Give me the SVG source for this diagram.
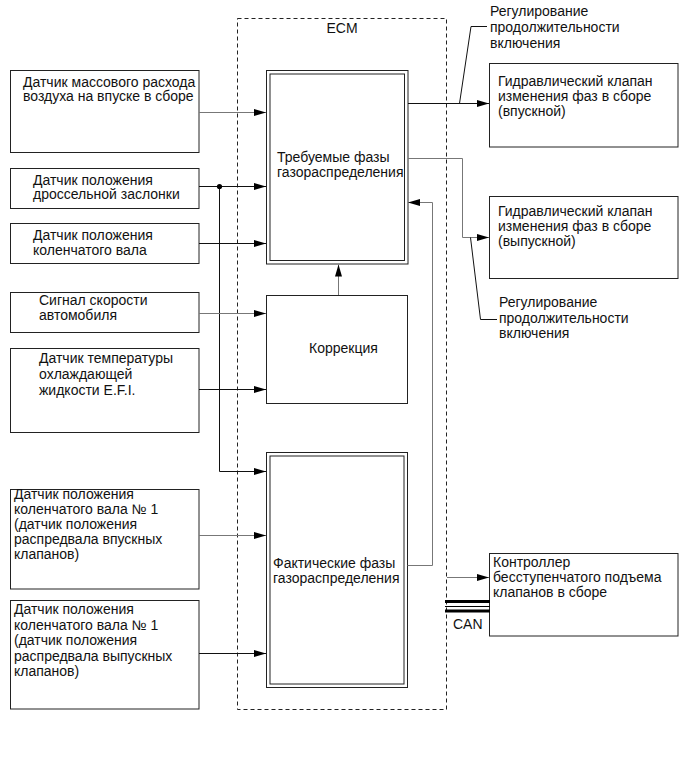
<svg xmlns="http://www.w3.org/2000/svg" width="690" height="757" viewBox="0 0 690 757">
<style>
text{font-family:"Liberation Sans",Arial,sans-serif;font-size:14px;fill:#111}
.box{fill:#fff;stroke:#222;stroke-width:1}
.dbl{fill:none;stroke:#222;stroke-width:1}
.ln{fill:none;stroke:#111;stroke-width:1}
.gl{fill:none;stroke:#777;stroke-width:1}
.ecm{fill:none;stroke:#222;stroke-width:1;stroke-dasharray:4 3}
</style>
<defs>
<marker id="ah" markerUnits="userSpaceOnUse" markerWidth="12" markerHeight="7" refX="12" refY="3.5" orient="auto">
<path d="M0,0 L12,3.5 L0,7 z" fill="#000"/>
</marker>
</defs>
<rect fill="#fff" x="0" y="0" width="690" height="757"/>

<g id="ecm">
<rect class="ecm" x="237.5" y="18.5" width="209" height="691"/>
<text x="342" y="32.5" text-anchor="middle">ECM</text>
</g>

<g id="n-maf">
<rect class="box" x="10.5" y="70.5" width="188.5" height="82"/>
<text x="23" y="86.5">Датчик массового расхода</text>
<text x="23" y="101">воздуха на впуске в сборе</text>
</g>
<g id="n-tps">
<rect class="box" x="10.5" y="168.5" width="188.5" height="40"/>
<text x="33" y="184.5">Датчик положения</text>
<text x="33" y="199">дроссельной заслонки</text>
</g>
<g id="n-ckp">
<rect class="box" x="10.5" y="223.5" width="188.5" height="40"/>
<text x="33" y="240">Датчик положения</text>
<text x="33" y="255">коленчатого вала</text>
</g>
<g id="n-vss">
<rect class="box" x="10.5" y="292.5" width="188.5" height="40"/>
<text x="39" y="305">Сигнал скорости</text>
<text x="39" y="319.5">автомобиля</text>
</g>
<g id="n-ect">
<rect class="box" x="10.5" y="348.5" width="188.5" height="84"/>
<text x="39" y="363">Датчик температуры</text>
<text x="39" y="379">охлаждающей</text>
<text x="39" y="395">жидкости E.F.I.</text>
</g>
<g id="n-cmp-in">
<rect class="box" x="10.5" y="489.5" width="188.5" height="99.5"/>
<text x="14" y="498.5">Датчик положения</text>
<text x="14" y="513.5">коленчатого вала № 1</text>
<text x="14" y="528.5">(датчик положения</text>
<text x="14" y="543.5">распредвала впускных</text>
<text x="14" y="558.5">клапанов)</text>
</g>
<g id="n-cmp-ex">
<rect class="box" x="10.5" y="600.5" width="188.5" height="108.5"/>
<text x="14" y="614">Датчик положения</text>
<text x="14" y="629.5">коленчатого вала № 1</text>
<text x="14" y="645">(датчик положения</text>
<text x="14" y="660.5">распредвала выпускных</text>
<text x="14" y="676">клапанов)</text>
</g>

<g id="n-target">
<rect class="box" x="266.5" y="70.5" width="141.5" height="193.5"/>
<rect class="dbl" x="270" y="74" width="134.5" height="186.5"/>
<text x="277" y="162">Требуемые фазы</text>
<text x="277" y="177">газораспределения</text>
</g>
<g id="n-corr">
<rect class="box" x="266.5" y="295.5" width="141" height="108"/>
<text x="309" y="353">Коррекция</text>
</g>
<g id="n-actual">
<rect class="box" x="266.5" y="452.5" width="141" height="235"/>
<rect class="dbl" x="270" y="456" width="134" height="228"/>
<text x="273" y="568">Фактические фазы</text>
<text x="273" y="583">газораспределения</text>
</g>

<g id="n-ocv-in">
<rect class="box" x="489.5" y="63.5" width="188.5" height="83.5"/>
<text x="498" y="86">Гидравлический клапан</text>
<text x="498" y="101">изменения фаз в сборе</text>
<text x="498" y="116">(впускной)</text>
</g>
<g id="n-ocv-ex">
<rect class="box" x="489.5" y="196.5" width="188.5" height="82"/>
<text x="498" y="216">Гидравлический клапан</text>
<text x="498" y="231">изменения фаз в сборе</text>
<text x="498" y="246">(выпускной)</text>
</g>
<g id="n-vvl">
<rect class="box" x="489.5" y="553.5" width="188.5" height="82.5"/>
<text x="493" y="566.5">Контроллер</text>
<text x="493" y="581.5">бесступенчатого подъема</text>
<text x="493" y="596.5">клапанов в сборе</text>
</g>

<g id="labels">
<text x="490" y="16">Регулирование</text>
<text x="490" y="32">продолжительности</text>
<text x="490" y="48">включения</text>
<text x="499" y="307">Регулирование</text>
<text x="499" y="323">продолжительности</text>
<text x="499" y="338">включения</text>
<text x="453" y="628.5">CAN</text>
</g>

<g id="connectors">
<path class="gl" d="M199,112.5 H266" marker-end="url(#ah)"/>
<path class="ln" d="M199,186.5 H266" marker-end="url(#ah)"/>
<path class="ln" d="M219.5,186.5 V471.5 H266" marker-end="url(#ah)"/>
<circle cx="219.5" cy="186.5" r="2.6" fill="#000"/>
<path class="ln" d="M199,243.5 H266" marker-end="url(#ah)"/>
<path class="gl" d="M199,313.5 H266" marker-end="url(#ah)"/>
<path class="ln" d="M199,389.5 H266" marker-end="url(#ah)"/>
<path class="gl" d="M199,535.5 H266" marker-end="url(#ah)"/>
<path class="ln" d="M199,653.5 H266" marker-end="url(#ah)"/>
<path class="gl" d="M338.5,295 V264.5" marker-end="url(#ah)"/>
<path class="ln" d="M408,103.5 H489" marker-end="url(#ah)"/>
<path class="gl" d="M408,158.5 H462.5 V237.5 H489" marker-end="url(#ah)"/>
<path class="gl" d="M407.5,565.5 H432.5 V202.5 H408" marker-end="url(#ah)"/>
<path class="gl" d="M447,577.5 H489" marker-end="url(#ah)"/>
<path class="ln" d="M459.5,103.5 L471,26.5 H487"/>
<path class="ln" d="M470.5,237.5 L480.5,319.5 H497"/>
<path stroke="#000" stroke-width="3" d="M445,601.5 H490"/>
<path stroke="#000" stroke-width="1" d="M445,606.5 H490"/>
<path stroke="#000" stroke-width="3" d="M445,611 H490"/>
</g>
</svg>
